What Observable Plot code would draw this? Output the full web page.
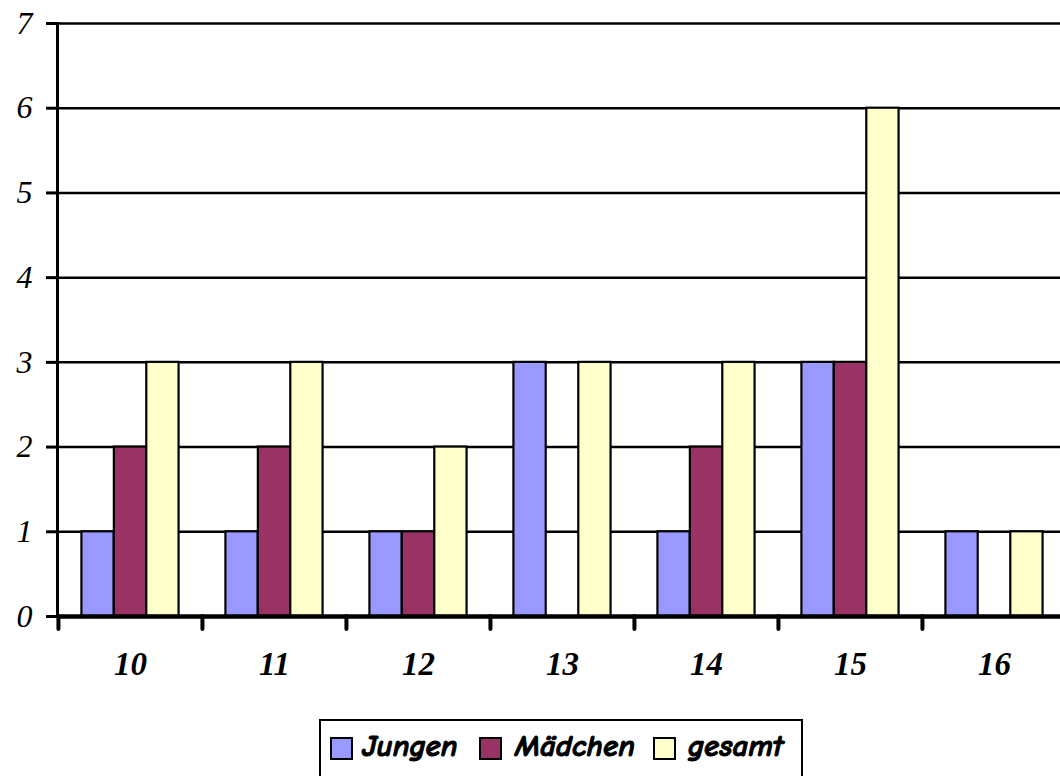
<!DOCTYPE html>
<html>
<head>
<meta charset="utf-8">
<script src="https://cdn.jsdelivr.net/npm/d3@7"></script>
<script src="https://cdn.jsdelivr.net/npm/@observablehq/plot@0.6"></script>
<style>
  html, body { margin: 0; padding: 0; background: #fff; overflow: hidden; }
  #wrap { position: relative; width: 1060px; height: 776px; }
  #legend {
    position: absolute; left: 319px; top: 719px; width: 484px; height: 80px;
    border: 2px solid #000; box-sizing: border-box; background: #fff;
    font-family: "Comic Sans MS", "Comic Neue", cursive, "DejaVu Sans", sans-serif;
    font-weight: bold; font-style: italic; font-size: 31px;
  }
  .sw { position: absolute; top: 16px; width: 19px; height: 19px; border: 2px solid #000; }
  .lt { position: absolute; top: 7px; line-height: 36px; white-space: nowrap; -webkit-text-stroke: 1px #000; }
</style>
</head>
<body>
<div id="wrap">
  <div id="chart"></div>
  <div id="legend"></div>
</div>
<script>
const categories = ["10", "11", "12", "13", "14", "15", "16"];
const seriesNames = ["Jungen", "Mädchen", "gesamt"];
const jungen  = [1, 1, 1, 3, 1, 3, 1];
const maedchen = [2, 2, 1, 0, 2, 3, 0];
const gesamt  = [3, 3, 2, 3, 3, 6, 1];
const yTicks = [0, 1, 2, 3, 4, 5, 6, 7];
const colors = ["#9999FF", "#993366", "#FFFFCC"];

const seriesValues = [jungen, maedchen, gesamt];
const rows = [];
seriesNames.forEach((s, si) => categories.forEach((c, ci) => {
  rows.push({cat: c, series: s, si, value: seriesValues[si][ci]});
}));

const width = 1060, marginLeft = 57, marginRight = -6;
const band = (width - marginLeft - marginRight) / categories.length;
const barW = band * 0.225;
const inset = (band - barW) / 2;

const barMarks = seriesNames.map((s, si) =>
  Plot.barY(rows.filter(d => d.si === si && d.value > 0), {
    x: "cat", y: "value", fill: colors[si], stroke: "#000", strokeWidth: 2.2,
    insetLeft: inset, insetRight: inset, dx: (si - 1) * barW
  })
);

const serif = "'Palatino Linotype', 'Book Antiqua', Palatino, 'Liberation Serif', serif";

const chart = Plot.plot({
  width, height: 706,
  marginLeft, marginRight, marginTop: 23, marginBottom: 90,
  style: {background: "#fff", overflow: "visible"},
  x: {type: "band", domain: categories, padding: 0},
  y: {domain: [0, 7]},
  marks: [
    Plot.gridY(yTicks.slice(1), {stroke: "#000", strokeOpacity: 1, strokeWidth: 2.5}),
    ...barMarks,
    Plot.frame({anchor: "left", stroke: "#000", strokeWidth: 3}),
    Plot.ruleY([0], {stroke: "#000", strokeWidth: 4.5}),
    Plot.axisY({ticks: yTicks, tickFormat: d3.format("d"), tickSize: 11, tickPadding: 14, strokeWidth: 3,
      fontSize: 32, fontStyle: "italic", fontFamily: serif, label: null, stroke: "#000"}),
    Plot.axisX({tickSize: 13, dx: -band / 2, strokeWidth: 4, strokeLinecap: "round",
      tickFormat: () => "", label: null}),
    Plot.axisX({tickSize: 0, tickPadding: 35, fontSize: 33, fontWeight: "bold",
      fontStyle: "italic", fontFamily: serif, label: null})
  ]
});
document.getElementById("chart").appendChild(chart);

const legend = document.getElementById("legend");
const swLefts = [9, 158, 332];
const txtLefts = [41, 194, 367];
seriesNames.forEach((s, i) => {
  const sw = document.createElement("div");
  sw.className = "sw";
  sw.style.left = swLefts[i] + "px";
  sw.style.background = colors[i];
  const t = document.createElement("span");
  t.className = "lt";
  t.style.left = txtLefts[i] + "px";
  t.textContent = s;
  legend.appendChild(sw); legend.appendChild(t);
});
</script>
</body>
</html>
